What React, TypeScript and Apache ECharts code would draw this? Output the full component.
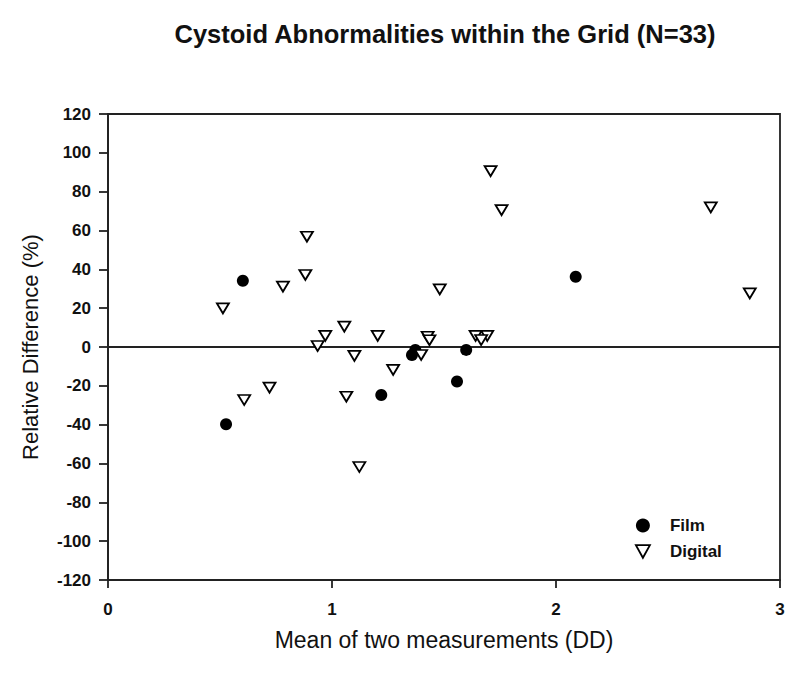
import React, { useEffect, useRef } from "react";
import * as echarts from "echarts";

const filmData: [number, number][] = [
  [0.602, 34.1],
  [2.088, 36.2],
  [0.527, -39.8],
  [1.22, -24.7],
  [1.357, -4.1],
  [1.372, -1.5],
  [1.599, -1.5],
  [1.558, -17.8],
];

const digitalData: [number, number][] = [
  [0.888, 56.8],
  [0.881, 37.1],
  [0.781, 31.1],
  [0.513, 19.9],
  [1.481, 29.7],
  [1.055, 10.5],
  [0.97, 5.7],
  [0.936, 0.5],
  [1.204, 5.7],
  [1.427, 5.3],
  [1.435, 3.5],
  [1.1, -4.6],
  [1.398, -4.1],
  [0.608, -27.3],
  [0.721, -20.9],
  [1.064, -25.6],
  [1.273, -11.8],
  [1.122, -61.8],
  [1.708, 90.6],
  [1.757, 70.5],
  [2.691, 71.9],
  [2.865, 27.6],
  [1.641, 5.7],
  [1.693, 5.7],
  [1.666, 3.6],
];

const titleText = "Cystoid Abnormalities within the Grid (N=33)";
const xName = "Mean of two measurements (DD)";
const yName = "Relative Difference (%)";

const FONT = "'Liberation Sans', Arial, sans-serif";
const downTri = "path://M0,0 L10,0 L5,9 Z";

export default function App() {
  const ref = useRef<HTMLDivElement>(null);
  useEffect(() => {
    document.body.style.margin = "0";
    if (!ref.current) return;
    const chart = echarts.init(ref.current, undefined, { renderer: "svg" });
    chart.setOption({
      animation: false,
      backgroundColor: "#fff",
      title: {
        text: titleText,
        left: 440,
        top: 16,
        textAlign: "center",
        textStyle: { fontFamily: FONT, fontWeight: "bold", fontSize: 25.5, color: "#111" },
      },
      grid: {
        left: 108,
        right: 20,
        top: 114,
        bottom: 98,
        show: true,
        borderColor: "#222",
        borderWidth: 1.8,
        backgroundColor: "transparent",
      },
      legend: {
        orient: "vertical",
        left: 630,
        top: 512,
        itemGap: 9,
        itemWidth: 14,
        itemHeight: 14,
        textStyle: { fontFamily: FONT, fontWeight: "bold", fontSize: 17, color: "#111", padding: [0, 0, 0, 15] },
        data: [
          { name: "Film", icon: "circle", itemStyle: { color: "#000", borderWidth: 0, opacity: 1 } },
          { name: "Digital", icon: downTri, itemStyle: { color: "#fff", borderColor: "#000", borderWidth: 1.8, opacity: 1 } },
        ],
      },
      xAxis: {
        type: "value",
        min: 0,
        max: 3,
        interval: 1,
        name: xName,
        nameLocation: "middle",
        nameGap: 48,
        nameMoveOverlap: false,
        nameTextStyle: { fontFamily: FONT, fontWeight: "normal", fontSize: 23, color: "#111" },
        axisLine: { show: true, onZero: false, lineStyle: { color: "#222", width: 1.8 } },
        axisTick: { show: true, inside: false, length: 8, lineStyle: { color: "#222", width: 1.8 } },
        axisLabel: { fontFamily: FONT, fontWeight: "bold", fontSize: 17, color: "#111", margin: 21 },
        splitLine: { show: false },
      },
      yAxis: {
        type: "value",
        min: -120,
        max: 120,
        interval: 20,
        name: yName,
        nameLocation: "middle",
        nameGap: 67,
        nameRotate: 90,
        nameMoveOverlap: false,
        nameTextStyle: { fontFamily: FONT, fontWeight: "normal", fontSize: 22, color: "#111" },
        axisLine: { show: true, onZero: false, lineStyle: { color: "#222", width: 1.8 } },
        axisTick: { show: true, inside: false, length: 9, lineStyle: { color: "#222", width: 1.8 } },
        axisLabel: { fontFamily: FONT, fontWeight: "bold", fontSize: 17, color: "#111", margin: 17 },
        splitLine: { show: false },
      },
      series: [
        {
          name: "Film",
          type: "scatter",
          data: filmData,
          symbol: "circle",
          symbolSize: 12,
          itemStyle: { color: "#000", opacity: 1 },
          z: 3,
          markLine: {
            silent: true,
            symbol: "none",
            label: { show: false },
            lineStyle: { color: "#222", width: 1.8, type: "solid", opacity: 1 },
            data: [{ yAxis: 0 }],
            z: 1,
          },
        },
        {
          name: "Digital",
          type: "scatter",
          data: digitalData,
          symbol: "triangle",
          symbolRotate: 180,
          symbolSize: [12, 10],
          itemStyle: { color: "#fff", borderColor: "#000", borderWidth: 1.8, opacity: 1 },
          z: 4,
        },
      ],
    });
    return () => chart.dispose();
  }, []);
  return <div ref={ref} style={{ width: 800, height: 678 }} />;
}
